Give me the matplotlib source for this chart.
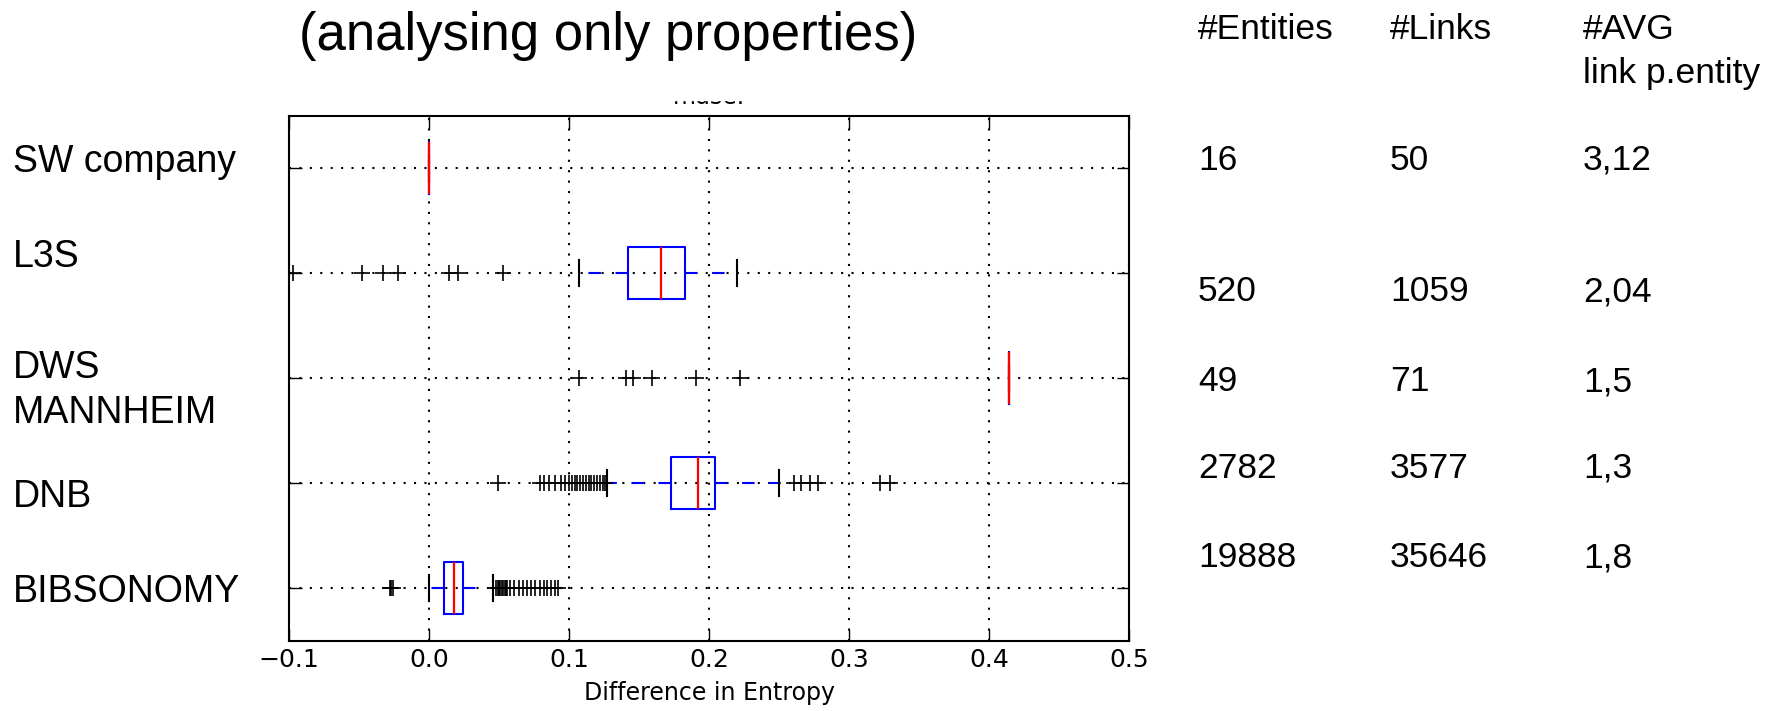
import matplotlib
matplotlib.use("Agg")
import matplotlib.pyplot as plt
from matplotlib.patches import Rectangle

# data, bottom to top on the y axis
categories = ['BIBSONOMY', 'DNB', 'DWS\nMANNHEIM', 'L3S', 'SW company']
q1 = [0.0104, 0.173, 0.414, 0.1424, 0.0]
med = [0.018, 0.192, 0.414, 0.1656, 0.0]
q3 = [0.024, 0.2044, 0.414, 0.183, 0.0]
whislo = [0.0, 0.127, 0.414, 0.107, 0.0]
whishi = [0.046, 0.250, 0.414, 0.220, 0.0]
fliers = [
    [-0.028, -0.027, -0.026, 0.048, 0.049, 0.050, 0.051, 0.052, 0.053, 0.054,
     0.055, 0.056, 0.058, 0.061, 0.064, 0.067, 0.070, 0.073, 0.076, 0.079,
     0.082, 0.084, 0.087, 0.090, 0.092],
    [0.049, 0.079, 0.082, 0.086, 0.090, 0.094, 0.097, 0.100, 0.102, 0.104,
     0.106, 0.108, 0.110, 0.112, 0.114, 0.116, 0.118, 0.120, 0.122, 0.124,
     0.126, 0.261, 0.266, 0.272, 0.278, 0.322, 0.329],
    [0.107, 0.141, 0.146, 0.159, 0.191, 0.222],
    [-0.097, -0.048, -0.033, -0.022, 0.014, 0.021, 0.053],
    [],
]

# table on the right, top to bottom
col_headers = ['#Entities', '#Links', '#AVG\nlink p.entity']
entities = ['16', '520', '49', '2782', '19888']
links = ['50', '1059', '71', '3577', '35646']
avg_links = ['3,12', '2,04', '1,5', '1,3', '1,8']

W, H = 1783, 711


def fxy(x, y):
    # pixel position (from top left) -> figure fraction
    return x / W, 1 - y / H


def slide_text(x, y, s, size, step):
    # one fig.text per line, baseline of the first line at y
    for k, line in enumerate(s.split('\n')):
        fig.text(*fxy(x, y + k * step), line, fontsize=size,
                 family='Liberation Sans', va='baseline')


fig = plt.figure(figsize=(W / 100, H / 100), dpi=100)
ax = fig.add_axes([289 / W, 1 - 640.5 / H, 840 / W, 525 / H])

stats = []
for i in range(len(categories)):
    stats.append(dict(med=med[i], q1=q1[i], q3=q3[i], whislo=whislo[i],
                      whishi=whishi[i], fliers=fliers[i]))

ax.bxp(stats, positions=range(1, len(categories) + 1), vert=False, widths=0.5,
       boxprops=dict(color='blue', linewidth=1.5),
       medianprops=dict(color='red', linewidth=1.6),
       whiskerprops=dict(color='blue', linewidth=1.5, linestyle=(0, (6, 7))),
       capprops=dict(color='black', linewidth=1.5),
       flierprops=dict(marker='+', markeredgecolor='black', markersize=12,
                       markeredgewidth=1.2, linestyle='none'))

ax.set_xlim(-0.1, 0.5)
ax.set_ylim(0.5, len(categories) + 0.5)
ax.set_xticks([-0.1, 0.0, 0.1, 0.2, 0.3, 0.4, 0.5])
ax.set_xticklabels(['\u22120.1', '0.0', '0.1', '0.2', '0.3', '0.4', '0.5'])
ax.set_yticks(range(1, len(categories) + 1))
ax.set_yticklabels([])
ax.tick_params(direction='in', length=9, width=1, top=True, right=True,
               labelsize=18, pad=5.5)
ax.grid(True, color='black', linestyle=(0, (1, 4)), linewidth=1.5)
ax.set_axisbelow(True)
for sp in ax.spines.values():
    sp.set_linewidth(1.5)
ax.set_xlabel('Difference in Entropy', fontsize=17, labelpad=6.5)

# axes title, cut off in the original screenshot
ax.set_title('mdse.', fontsize=17, pad=8)
fig.patches.append(Rectangle(fxy(600, 100), 230 / W, 30 / H,
                             transform=fig.transFigure, color='white', zorder=5))

fig.text(*fxy(299, 50), '(analysing only properties)', fontsize=38,
         family='Liberation Sans', va='baseline')

label_baselines = [602, 507, 378, 267, 172]
for lab, yb in zip(categories, label_baselines):
    slide_text(13, yb, lab, 27, 45)

col_x = [1198, 1390, 1583]
for x, head in zip(col_x, col_headers):
    slide_text(x, 39, head, 25.5, 44)

row_baselines = [170, 301, 391, 478, 567]
for yb, e, l, a in zip(row_baselines, entities, links, avg_links):
    for x, s in zip(col_x, [e, l, a]):
        slide_text(x, yb, s, 25.5, 44)

fig.savefig('out.png', dpi=100)
